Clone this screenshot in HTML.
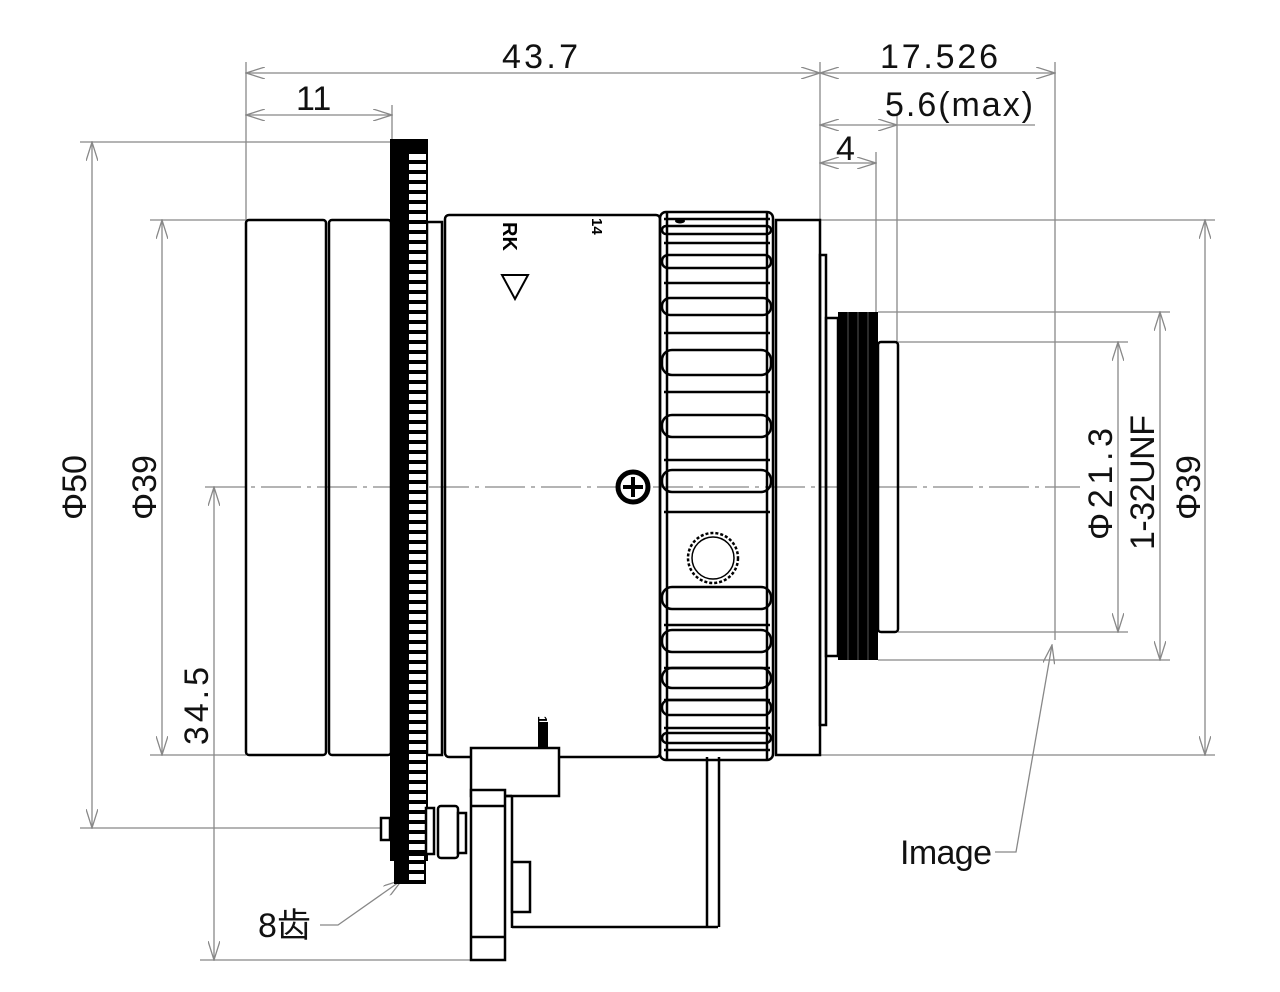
<!DOCTYPE html>
<html><head><meta charset="utf-8"><style>
html,body{margin:0;padding:0;background:#fff;width:1280px;height:992px;overflow:hidden}
svg{display:block}
.d{stroke:#888;stroke-width:1.3;fill:none}
.o{stroke:#000;stroke-width:2.5;fill:none}
.t{font-family:"Liberation Sans","Noto Sans CJK SC",sans-serif;font-size:34px;fill:#111}
</style></head><body>
<svg width="1280" height="992" viewBox="0 0 1280 992" xmlns="http://www.w3.org/2000/svg">
<defs>
<marker id="a" viewBox="0 0 20 12" refX="19" refY="6" markerWidth="20" markerHeight="12" markerUnits="userSpaceOnUse" orient="auto-start-reverse"><path d="M0,0 L19,6 L0,12" fill="none" stroke="#888" stroke-width="1.3"/></marker>
<pattern id="g" x="0" y="142" width="45" height="10" patternUnits="userSpaceOnUse"><rect width="45" height="10" fill="#000"/><rect x="4" y="2" width="28" height="6" fill="#fff"/></pattern>
</defs>

<g class="d">
<line x1="246" y1="62" x2="246" y2="220"/>
<line x1="820" y1="62" x2="820" y2="220"/>
<line x1="1055" y1="62" x2="1055" y2="640"/>
<line x1="392" y1="105" x2="392" y2="140"/>
<line x1="897" y1="115" x2="897" y2="342"/>
<line x1="876" y1="152" x2="876" y2="312"/>
<line x1="80" y1="142" x2="392" y2="142"/>
<line x1="80" y1="828" x2="392" y2="828"/>
<line x1="150" y1="220" x2="246" y2="220"/>
<line x1="150" y1="755" x2="246" y2="755"/>
<line x1="200" y1="960" x2="471" y2="960"/>
<line x1="820" y1="220" x2="1215" y2="220"/>
<line x1="820" y1="755" x2="1215" y2="755"/>
<line x1="878" y1="312" x2="1170" y2="312"/>
<line x1="878" y1="660" x2="1170" y2="660"/>
<line x1="898" y1="342" x2="1128" y2="342"/>
<line x1="898" y1="632" x2="1128" y2="632"/>
<line x1="246" y1="73" x2="820" y2="73" marker-start="url(#a)" marker-end="url(#a)"/>
<line x1="820" y1="73" x2="1055" y2="73" marker-start="url(#a)" marker-end="url(#a)"/>
<line x1="246" y1="115" x2="392" y2="115" marker-start="url(#a)" marker-end="url(#a)"/>
<line x1="820" y1="125" x2="897" y2="125" marker-start="url(#a)" marker-end="url(#a)"/>
<line x1="1035" y1="125" x2="897" y2="125"/>
<line x1="820" y1="163" x2="876" y2="163" marker-start="url(#a)" marker-end="url(#a)"/>
<line x1="92" y1="142" x2="92" y2="828" marker-start="url(#a)" marker-end="url(#a)"/>
<line x1="162" y1="220" x2="162" y2="755" marker-start="url(#a)" marker-end="url(#a)"/>
<line x1="214" y1="487" x2="214" y2="960" marker-start="url(#a)" marker-end="url(#a)"/>
<line x1="1118" y1="342" x2="1118" y2="632" marker-start="url(#a)" marker-end="url(#a)"/>
<line x1="1160" y1="312" x2="1160" y2="660" marker-start="url(#a)" marker-end="url(#a)"/>
<line x1="1205" y1="220" x2="1205" y2="755" marker-start="url(#a)" marker-end="url(#a)"/>
<line x1="205" y1="487" x2="1080" y2="487" stroke-dasharray="40,6,4,6"/>
<path d="M995,852 L1016,852 L1052,645" marker-end="url(#a)"/>
<path d="M320,925 L338,925 L402,880" marker-end="url(#a)"/>
</g>

<g class="o">
<rect x="246" y="220" width="80" height="535" rx="3"/>
<rect x="329" y="220" width="62" height="535" rx="3"/>
<rect x="427" y="222" width="15" height="533"/>
<rect x="445" y="215" width="215" height="542" rx="4"/>
<rect x="776" y="220" width="44" height="535"/>
<rect x="820" y="255" width="6" height="470"/>
<rect x="826" y="318" width="12" height="338"/>
<rect x="878" y="342" width="20" height="290" rx="3"/>
</g>
<rect x="838" y="312" width="40" height="348" fill="#000"/>
<g stroke="#555" stroke-width="1"><line x1="848" y1="312" x2="848" y2="660"/><line x1="858" y1="312" x2="858" y2="660"/><line x1="868" y1="312" x2="868" y2="660"/></g>

<rect x="391" y="140" width="36" height="720" fill="url(#g)" stroke="#000" stroke-width="2"/>
<rect x="391" y="140" width="36" height="14" fill="#000"/>
<rect x="395" y="855" width="30" height="28" fill="url(#g)" stroke="#000" stroke-width="2"/>

<rect x="660" y="212" width="113" height="548" rx="6" class="o"/>
<g class="o" stroke-width="2">
<line x1="664" y1="219" x2="770" y2="219"/>
<rect x="662" y="226" width="109" height="8" rx="4"/>
<line x1="664" y1="243" x2="770" y2="243"/>
<rect x="662" y="255" width="109" height="13" rx="6"/>
<line x1="664" y1="283" x2="770" y2="283"/>
<rect x="662" y="298" width="109" height="17" rx="8"/>
<line x1="664" y1="333" x2="770" y2="333"/>
<rect x="662" y="350" width="109" height="25" rx="10"/>
<line x1="664" y1="392" x2="770" y2="392"/>
<rect x="662" y="415" width="109" height="22" rx="10"/>
<line x1="664" y1="460" x2="770" y2="460"/>
<rect x="662" y="470" width="109" height="22" rx="10"/>
<line x1="664" y1="512" x2="770" y2="512"/>
<rect x="662" y="587" width="109" height="22" rx="10"/>
<line x1="664" y1="625" x2="770" y2="625"/>
<rect x="662" y="630" width="109" height="22" rx="10"/>
<line x1="664" y1="668" x2="770" y2="668"/>
<rect x="662" y="668" width="109" height="20" rx="10"/>
<line x1="664" y1="700" x2="770" y2="700"/>
<rect x="662" y="700" width="109" height="15" rx="7"/>
<line x1="664" y1="728" x2="770" y2="728"/>
<rect x="662" y="733" width="109" height="10" rx="5"/>
<line x1="664" y1="750" x2="770" y2="750"/>
<line x1="667" y1="212" x2="667" y2="760"/>
<line x1="767" y1="212" x2="767" y2="760"/>
</g>
<ellipse cx="680" cy="221" rx="5" ry="2.5" fill="#000"/>
<circle cx="713" cy="558" r="25" fill="#fff" stroke="#000" stroke-width="2.5" stroke-dasharray="3,2"/>
<circle cx="713" cy="558" r="21" fill="#fff" stroke="#000" stroke-width="1.5"/>
<circle cx="633" cy="487" r="15" fill="#fff" stroke="#000" stroke-width="5"/>
<line x1="623" y1="487" x2="643" y2="487" stroke="#000" stroke-width="4"/>
<line x1="633" y1="477" x2="633" y2="497" stroke="#000" stroke-width="4"/>
<text x="0" y="0" transform="translate(503,222) rotate(90)" font-family="Liberation Sans,sans-serif" font-weight="bold" font-size="20">RK</text>
<text x="0" y="0" transform="translate(592,218) rotate(90)" font-family="Liberation Sans,sans-serif" font-weight="bold" font-size="15">14</text>
<path d="M502,275 L528,275 L515,299 Z" fill="none" stroke="#000" stroke-width="2"/>
<text x="0" y="0" transform="translate(538,716) rotate(90)" font-family="Liberation Sans,sans-serif" font-weight="bold" font-size="13">16</text>

<g class="o" fill="#fff">
<rect x="471" y="748" width="88" height="48" fill="#fff"/>
<rect x="471" y="790" width="34" height="170" fill="#fff"/>
<line x1="471" y1="806" x2="505" y2="806"/>
<line x1="471" y1="937" x2="505" y2="937"/>
<line x1="505" y1="796" x2="512" y2="796"/>
<line x1="512" y1="796" x2="512" y2="928"/>
<line x1="512" y1="927" x2="718" y2="927"/>
<line x1="707" y1="757" x2="707" y2="927"/>
<line x1="719" y1="757" x2="719" y2="927"/>
<rect x="512" y="862" width="18" height="50" fill="#fff"/>
<rect x="381" y="818" width="9" height="22" fill="#fff"/>
<rect x="426" y="808" width="8" height="46" fill="#fff"/>
<rect x="438" y="806" width="20" height="52" rx="3" fill="#fff"/>
<rect x="458" y="813" width="8" height="40" fill="#fff"/>
</g>
<rect x="538" y="722" width="10" height="26" fill="#000"/>

<text class="t" x="502" y="68" textLength="76">43.7</text>
<text class="t" x="880" y="68" textLength="118">17.526</text>
<text class="t" x="296" y="110">11</text>
<text class="t" x="885" y="116" textLength="148">5.6(max)</text>
<text class="t" x="836" y="160">4</text>
<text class="t" transform="translate(86,520) rotate(-90)">Φ50</text>
<text class="t" transform="translate(156,520) rotate(-90)">Φ39</text>
<text class="t" transform="translate(208,745) rotate(-90)" textLength="78">34.5</text>
<text class="t" transform="translate(1112,540) rotate(-90)" textLength="112">Φ21.3</text>
<text class="t" transform="translate(1154,550) rotate(-90)" textLength="135">1-32UNF</text>
<text class="t" transform="translate(1200,520) rotate(-90)">Φ39</text>
<text class="t" x="900" y="864" textLength="92">Image</text>
<text class="t" x="258" y="937">8齿</text>
</svg>
</body></html>
